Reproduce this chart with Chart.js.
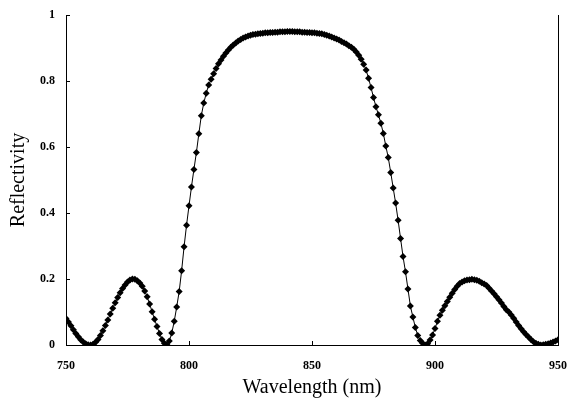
<!DOCTYPE html>
<html>
<head>
<meta charset="utf-8">
<script src="https://cdn.jsdelivr.net/npm/chart.js@4"></script>
<style>
  html, body { margin: 0; padding: 0; background: #fff; }
  #wrap { width: 568px; height: 409px; }
</style>
</head>
<body>
<div id="wrap"><canvas id="refl-chart"></canvas></div>
<script>
// wavelength grid (nm), one sample per nm
const wavelengths = [
    750, 751, 752, 753, 754, 755, 756, 757, 758, 759,
    760, 761, 762, 763, 764, 765, 766, 767, 768, 769,
    770, 771, 772, 773, 774, 775, 776, 777, 778, 779,
    780, 781, 782, 783, 784, 785, 786, 787, 788, 789,
    790, 791, 792, 793, 794, 795, 796, 797, 798, 799,
    800, 801, 802, 803, 804, 805, 806, 807, 808, 809,
    810, 811, 812, 813, 814, 815, 816, 817, 818, 819,
    820, 821, 822, 823, 824, 825, 826, 827, 828, 829,
    830, 831, 832, 833, 834, 835, 836, 837, 838, 839,
    840, 841, 842, 843, 844, 845, 846, 847, 848, 849,
    850, 851, 852, 853, 854, 855, 856, 857, 858, 859,
    860, 861, 862, 863, 864, 865, 866, 867, 868, 869,
    870, 871, 872, 873, 874, 875, 876, 877, 878, 879,
    880, 881, 882, 883, 884, 885, 886, 887, 888, 889,
    890, 891, 892, 893, 894, 895, 896, 897, 898, 899,
    900, 901, 902, 903, 904, 905, 906, 907, 908, 909,
    910, 911, 912, 913, 914, 915, 916, 917, 918, 919,
    920, 921, 922, 923, 924, 925, 926, 927, 928, 929,
    930, 931, 932, 933, 934, 935, 936, 937, 938, 939,
    940, 941, 942, 943, 944, 945, 946, 947, 948, 949,
    950
]

// reflectivity
const reflectivity = [
    0.080, 0.070, 0.058, 0.046, 0.035, 0.025, 0.016, 0.009, 0.004, 0.001,
    0.000, 0.002, 0.008, 0.017, 0.029, 0.043, 0.059, 0.076, 0.094, 0.111,
    0.128, 0.144, 0.158, 0.171, 0.182, 0.191, 0.197, 0.200, 0.199, 0.195,
    0.188, 0.178, 0.164, 0.146, 0.124, 0.101, 0.078, 0.056, 0.035, 0.017,
    0.005, 0.001, 0.012, 0.036, 0.072, 0.115, 0.162, 0.225, 0.298, 0.363,
    0.422, 0.479, 0.532, 0.583, 0.640, 0.695, 0.733, 0.763, 0.788, 0.805,
    0.822, 0.838, 0.852, 0.864, 0.875, 0.885, 0.894, 0.902, 0.909, 0.915,
    0.921, 0.926, 0.930, 0.933, 0.936, 0.939, 0.941, 0.942, 0.943, 0.944,
    0.945, 0.946, 0.946, 0.947, 0.947, 0.948, 0.948, 0.949, 0.949, 0.949,
    0.950, 0.950, 0.950, 0.949, 0.949, 0.949, 0.948, 0.948, 0.947, 0.947,
    0.946, 0.946, 0.945, 0.944, 0.943, 0.941, 0.939, 0.936, 0.933, 0.930,
    0.927, 0.924, 0.920, 0.916, 0.912, 0.907, 0.902, 0.896, 0.888, 0.878,
    0.866, 0.851, 0.833, 0.808, 0.780, 0.750, 0.722, 0.698, 0.672, 0.641,
    0.603, 0.568, 0.523, 0.476, 0.430, 0.378, 0.323, 0.268, 0.222, 0.170,
    0.118, 0.085, 0.053, 0.029, 0.014, 0.005, 0.000, 0.004, 0.015, 0.030,
    0.050, 0.072, 0.090, 0.105, 0.119, 0.132, 0.145, 0.157, 0.168, 0.178,
    0.186, 0.191, 0.195, 0.197, 0.198, 0.199, 0.198, 0.196, 0.193, 0.189,
    0.185, 0.180, 0.172, 0.164, 0.155, 0.146, 0.137, 0.127, 0.117, 0.107,
    0.100, 0.091, 0.081, 0.070, 0.059, 0.049, 0.040, 0.032, 0.024, 0.017,
    0.010, 0.005, 0.002, 0.000, 0.001, 0.002, 0.004, 0.006, 0.009, 0.012,
    0.016
]

const xTicks = [750, 800, 850, 900, 950]
const yTicks = [0, 0.2, 0.4, 0.6, 0.8, 1]

const serif = '"Liberation Serif", "Times New Roman", serif'

// small tick marks pointing into the plot, plus the right-hand frame line
const innerTicks = {
    id: 'innerTicks',
    afterDraw(chart) {
        const ctx = chart.ctx
        const area = chart.chartArea
        const x = chart.scales.x
        const y = chart.scales.y
        ctx.save()
        ctx.strokeStyle = '#000'
        ctx.lineWidth = 1
        ctx.beginPath()
        xTicks.forEach(v => {
            const px = Math.round(x.getPixelForValue(v)) + 0.5
            ctx.moveTo(px, area.bottom)
            ctx.lineTo(px, area.bottom - 4)
        })
        yTicks.forEach(v => {
            const py = Math.round(y.getPixelForValue(v)) + 0.5
            ctx.moveTo(area.left, py)
            ctx.lineTo(area.left + 4, py)
        })
        ctx.moveTo(Math.round(area.right) + 0.5, area.top)
        ctx.lineTo(Math.round(area.right) + 0.5, area.bottom)
        ctx.stroke()
        ctx.restore()
    }
}

new Chart(document.querySelector('#refl-chart').getContext('2d'), {
    type: 'line',
    data: {
        datasets: [{
            label: 'Reflectivity',
            data: wavelengths.map((w, i) => ({ x: w, y: reflectivity[i] })),
            borderColor: '#000',
            borderWidth: 1,
            backgroundColor: '#000',
            pointStyle: 'rectRot',
            pointRadius: 3.5,
            pointBorderWidth: 0,
            pointBackgroundColor: '#000',
            tension: 0
        }]
    },
    plugins: [innerTicks],
    options: {
        responsive: true,
        maintainAspectRatio: false,
        animation: false,
        layout: { padding: { top: 15, right: 0, left: 0, bottom: 0 } },
        plugins: {
            legend: { display: false },
            tooltip: { enabled: false }
        },
        scales: {
            x: {
                type: 'linear',
                min: 750,
                max: 950,
                afterBuildTicks: scale => { scale.ticks = xTicks.map(v => ({ value: v })) },
                afterFit: scale => {
                    scale.height = 64
                    scale.paddingLeft = 0
                    scale.paddingRight = 10
                },
                grid: { display: false, drawTicks: false },
                border: { display: true, color: '#000', width: 1 },
                ticks: {
                    color: '#000',
                    padding: 14,
                    maxRotation: 0,
                    font: { family: serif, size: 12, weight: 'bold' }
                },
                title: {
                    display: true,
                    text: 'Wavelength (nm)',
                    color: '#000',
                    padding: { top: 0, bottom: 9 },
                    font: { family: serif, size: 20 }
                }
            },
            y: {
                min: 0,
                max: 1,
                afterBuildTicks: scale => { scale.ticks = yTicks.map(v => ({ value: v })) },
                afterFit: scale => {
                    scale.width = 66
                    scale.paddingTop = 0
                    scale.paddingBottom = 0
                },
                grid: { display: false, drawTicks: false },
                border: { display: true, color: '#000', width: 1 },
                ticks: {
                    color: '#000',
                    padding: 11,
                    callback: v => String(v),
                    font: { family: serif, size: 12, weight: 'bold' }
                },
                title: {
                    display: true,
                    text: 'Reflectivity',
                    color: '#000',
                    padding: { top: 7, bottom: 0 },
                    font: { family: serif, size: 20 }
                }
            }
        }
    }
})
</script>
</body>
</html>
